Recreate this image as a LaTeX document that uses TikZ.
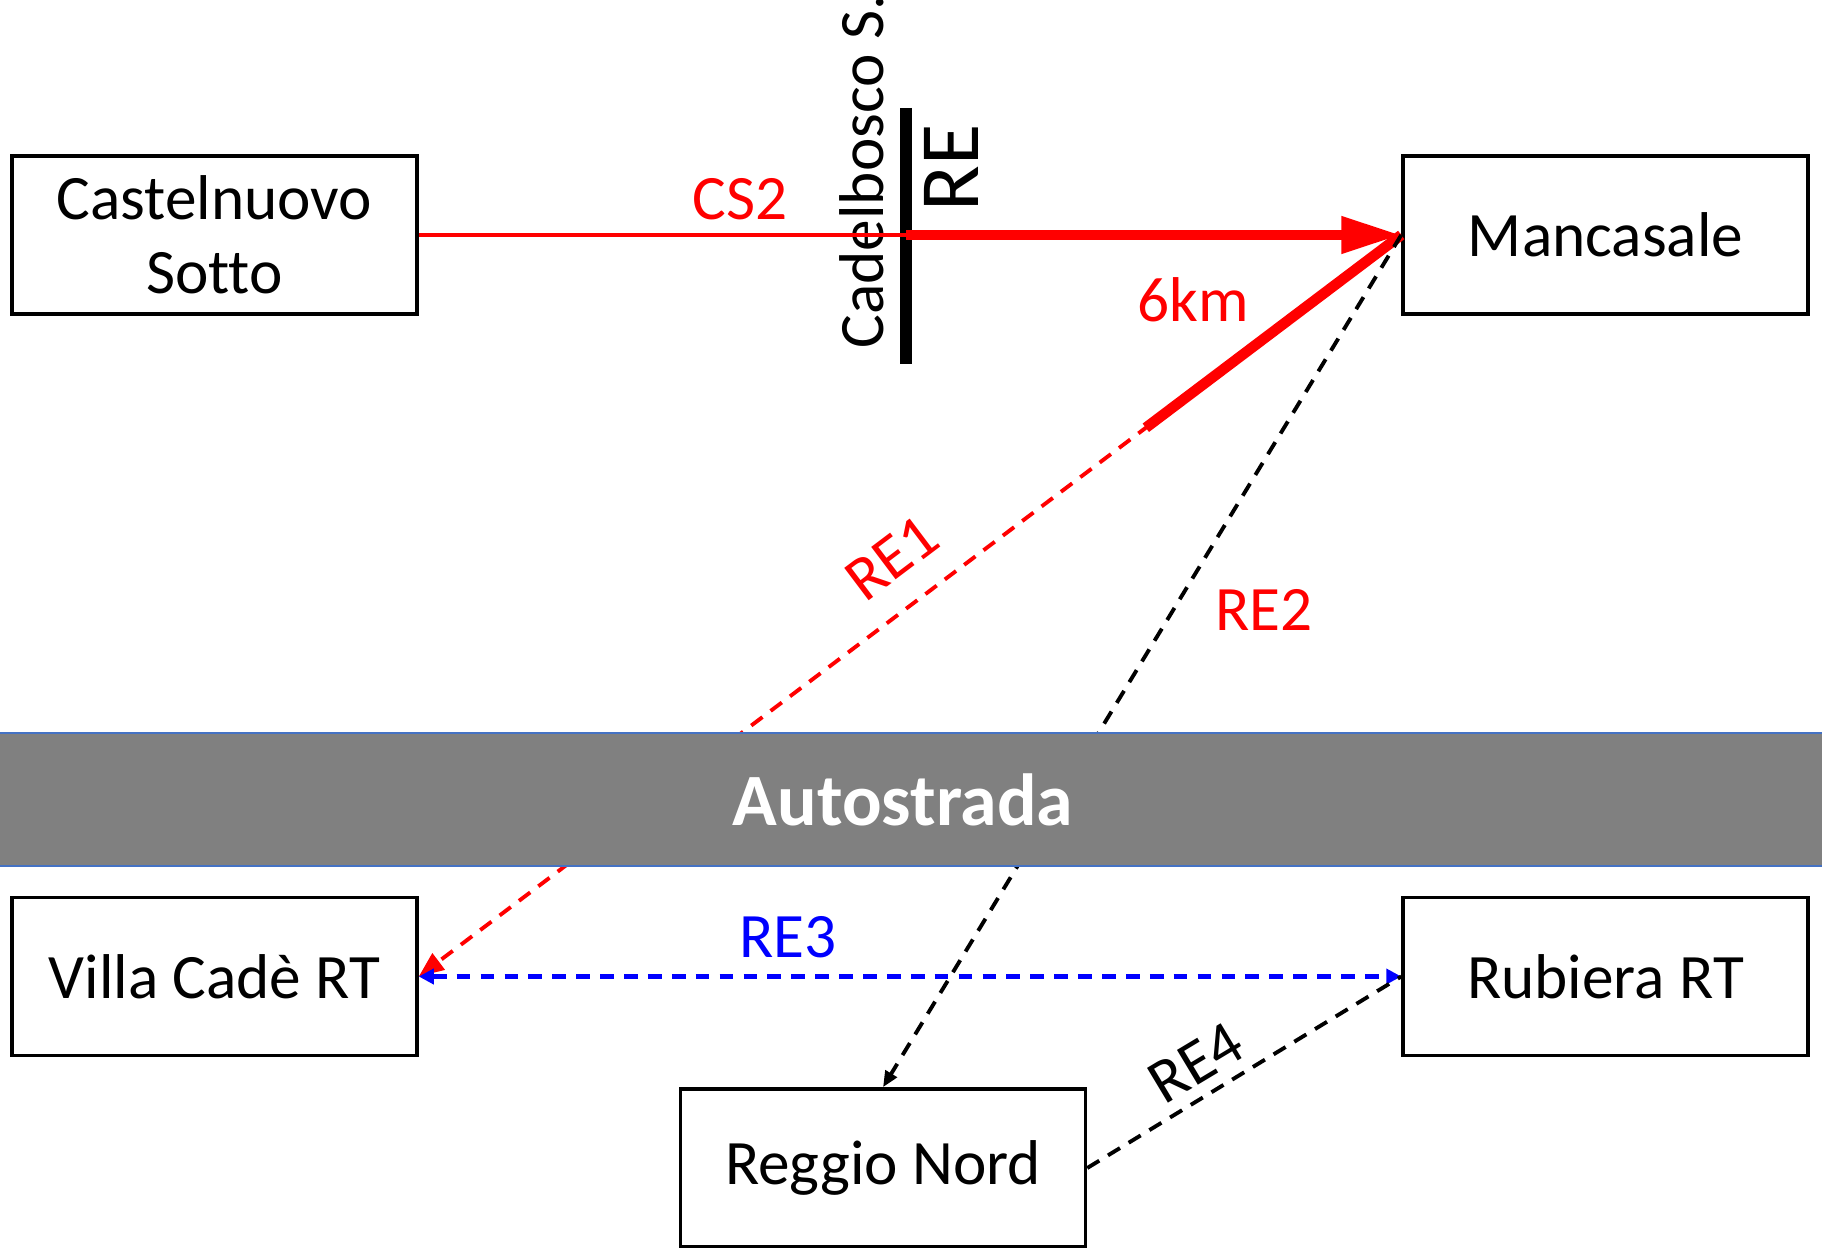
\documentclass[tikz,border=0pt]{standalone}
\usepackage{fontspec}
\setmainfont{Carlito}[Ligatures=NoCommon]
\usepackage{xcolor}
\usepackage{tikz}
\usetikzlibrary{
	arrows.meta,
	positioning,
	calc
}
\definecolor{bandedge}{RGB}{68,114,196}

\begin{document}
\begin{tikzpicture}[
        >=latex,
        font=\fontsize{18}{21}\selectfont,
        % town box
        box/.style={
            rectangle, draw, line width=1pt,
            minimum width=4.05cm,
            minimum height=1.58cm,
            align=center,
            inner sep=0pt
        },
        % dashed route line
        route/.style={dash pattern=on 4pt off 2.9pt, line width=1.1pt},
        % motorway band
        band/.style={
            rectangle, fill=gray, draw=bandedge, line width=0.6pt,
            minimum width=18.42cm, minimum height=1.33cm,
            inner sep=0pt, text=white,
            font=\fontsize{21}{25}\selectfont\bfseries
        },
        tag/.style={inner sep=0pt}
    ]
        \useasboundingbox (0,0) rectangle (18.22,12.47);

        % ====================
        % Top row
        % ====================
        \node[box] (Castel) at (2.145, 10.12) {\raisebox{-0.06cm}{Castelnuovo}\\\raisebox{-0.06cm}{Sotto}};
        \node[box] (Manca) at (16.055, 10.12) {Mancasale};

        % Cadelbosco barrier
        \coordinate (barTop) at (9.06, 11.39);
        \coordinate (barBot) at (9.06, 8.83);
        \draw[line width=3.2pt] (barTop) -- (barBot);
        \node[tag, rotate=90, anchor=base west] (Cadel) at (8.83, 8.98) {Cadelbosco S.};
        \node[tag, rotate=90, anchor=base west, font=\fontsize{24}{28}\selectfont] (REtag) at (9.78, 10.35) {RE};

        % ====================
        % Bottom row
        % ====================
        \node[box] (Villa) at (2.145, 2.705) {Villa Cadè RT};
        \node[box] (Rubiera) at (16.055, 2.705) {Rubiera RT};
        \node[box] (Reggio) at (8.83, 0.79) {Reggio Nord};

        % ====================
        % Connections
        % ====================
        \coordinate (cs2end) at (Castel.east -| barTop);
        \draw[red, line width=0.9pt] (Castel.east) -- node[tag, pos=0.66, above=0.13cm] {CS2} (cs2end);
        \draw[red, line width=3pt, -{Triangle[length=6mm, width=3.5mm]}] (cs2end) -- node[tag, pos=0.58, below=0.37cm] {6km} (Manca.west);

        % RE1: dashed to Villa Cade, first part solid
        \draw[red, route, -{Triangle[length=2.5mm, width=2mm]}] (Manca.west) -- (Villa.east);
        \coordinate (re1bend) at ($(Manca.west)!0.26!(Villa.east)$);
        \draw[red, line width=3pt] (Manca.west) -- (re1bend);
        \node[tag, red, rotate=37] (re1tag) at (8.92, 6.89) {RE1};

        % RE2
        \draw[route, -{Triangle[length=1.6mm, width=1.3mm]}] (Manca.west) -- node[tag, pos=0.44, right=0.4cm, red] {RE2} (Reggio.north);

        % RE3
        \draw[blue, line width=1.2pt, dash pattern=on 3.9pt off 2.9pt,
              {Triangle[length=1.5mm, width=1.5mm]}-{Triangle[length=1.5mm, width=1.5mm]}]
              (Villa.east) -- node[tag, pos=0.376, above=0.16cm] {RE3} (Rubiera.west);

        % RE4
        \draw[route] (Reggio.east) -- (Rubiera.west);
        \node[tag, rotate=31] (re4tag) at (11.96, 1.84) {RE4};

        % motorway over the routes
        \node[band] (Auto) at (9.03, 4.475) {Autostrada};

\end{tikzpicture}
\end{document}
